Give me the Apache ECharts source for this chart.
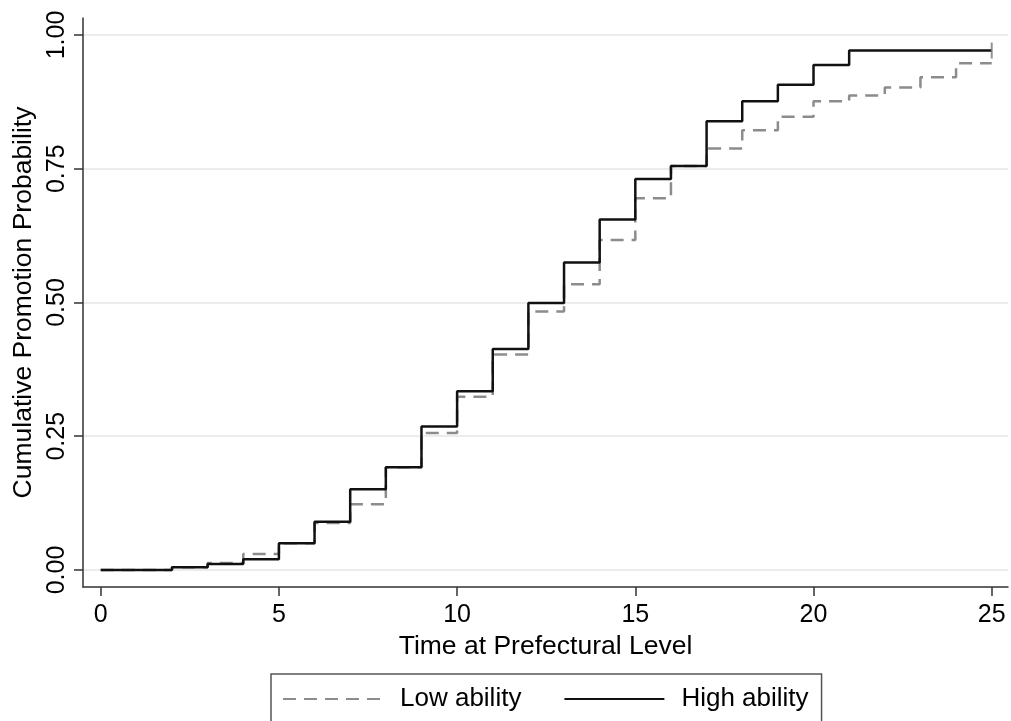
<!DOCTYPE html>
<html>
<head>
<meta charset="utf-8">
<script src="https://cdn.jsdelivr.net/npm/echarts@6/dist/echarts.min.js"></script>
<style>
  html, body { margin: 0; padding: 0; background: #fff; }
  #chart { width: 1011px; height: 721px; }
</style>
</head>
<body>
<div id="chart"></div>
<script>
// time at prefectural level (years), value holds until the next year
const times = [0,1,2,3,4,5,6,7,8,9,10,11,12,13,14,15,16,17,18,19,20,21,22,23,24,25];
const lowAbility = [0, 0, 0.005, 0.013, 0.030, 0.050, 0.088, 0.123, 0.192, 0.256, 0.324, 0.403, 0.483,
  0.534, 0.617, 0.695, 0.755, 0.788, 0.822, 0.847, 0.876, 0.887, 0.902, 0.921, 0.947, 0.947];
const highAbility = [0, 0, 0.005, 0.011, 0.020, 0.050, 0.090, 0.151, 0.192, 0.268, 0.334, 0.413, 0.499,
  0.575, 0.655, 0.731, 0.755, 0.839, 0.876, 0.907, 0.944, 0.971, 0.971, 0.971, 0.971, 0.971];
const xTicks = [0, 5, 10, 15, 20, 25];
const yTicks = [0, 0.25, 0.5, 0.75, 1];
const seriesNames = ['Low ability', 'High ability'];

const font = 'Liberation Sans, Arial, sans-serif';
const chart = echarts.init(document.getElementById('chart'));

const lastIdx = times.length - 1;

const option = {
  animation: false,
  backgroundColor: '#fff',
  grid: { left: 83, right: 3, top: 18, bottom: 134 },
  xAxis: {
    type: 'value',
    min: -0.497,
    max: 25.457,
    axisLine: { show: true, onZero: false, lineStyle: { color: '#333', width: 1.5 } },
    axisTick: { show: true, length: 9, customValues: xTicks, lineStyle: { color: '#333', width: 1.5 } },
    axisLabel: { customValues: xTicks, fontSize: 25, margin: 16, color: '#000', fontFamily: font },
    splitLine: { show: false },
    name: 'Time at Prefectural Level',
    nameLocation: 'middle',
    nameGap: 44,
    nameTextStyle: { fontSize: 26.5, color: '#000', fontFamily: font }
  },
  yAxis: {
    type: 'value',
    min: -0.0318,
    max: 1.0318,
    axisLine: { show: true, onZero: false, lineStyle: { color: '#333', width: 1.5 } },
    axisTick: { show: true, length: 9, customValues: yTicks, lineStyle: { color: '#333', width: 1.5 } },
    axisLabel: {
      customValues: yTicks, rotate: 90, fontSize: 25, margin: 13, color: '#000', fontFamily: font,
      formatter: v => v.toFixed(2)
    },
    splitLine: { show: true, lineStyle: { color: '#e6e6e6', width: 1.5 } },
    name: 'Cumulative Promotion Probability',
    nameLocation: 'middle',
    nameGap: 46,
    nameTextStyle: { fontSize: 26.5, color: '#000', fontFamily: font }
  },
  legend: {
    data: seriesNames,
    left: 271,
    top: 674,
    orient: 'horizontal',
    itemWidth: 100,
    itemHeight: 20,
    itemGap: 42,
    padding: [12, 13, 30, 11],
    borderColor: '#555',
    borderWidth: 1.5,
    itemStyle: { opacity: 0 },
    textStyle: { fontSize: 26, color: '#000', fontFamily: font, padding: [0, 0, 0, 12] }
  },
  series: [
    {
      name: seriesNames[0],
      type: 'line',
      step: 'end',
      symbol: 'none',
      data: times.map((t, i) => [t, lowAbility[i]]),
      itemStyle: { color: '#8c8c8c' },
      lineStyle: { color: '#8c8c8c', width: 2.5, type: [13, 8] },
      z: 2
    },
    {
      name: seriesNames[1],
      type: 'line',
      step: 'end',
      symbol: 'none',
      data: times.map((t, i) => [t, highAbility[i]]),
      itemStyle: { color: '#111' },
      lineStyle: { color: '#111', width: 2.5 },
      z: 3
    },
    {
      // censoring tick at the end of the high ability curve
      name: 'censored',
      type: 'scatter',
      symbol: 'rect',
      symbolSize: [2, 16],
      data: [[times[lastIdx], highAbility[lastIdx]]],
      itemStyle: { color: '#777' },
      z: 4
    }
  ]
};

chart.setOption(option);
</script>
</body>
</html>
